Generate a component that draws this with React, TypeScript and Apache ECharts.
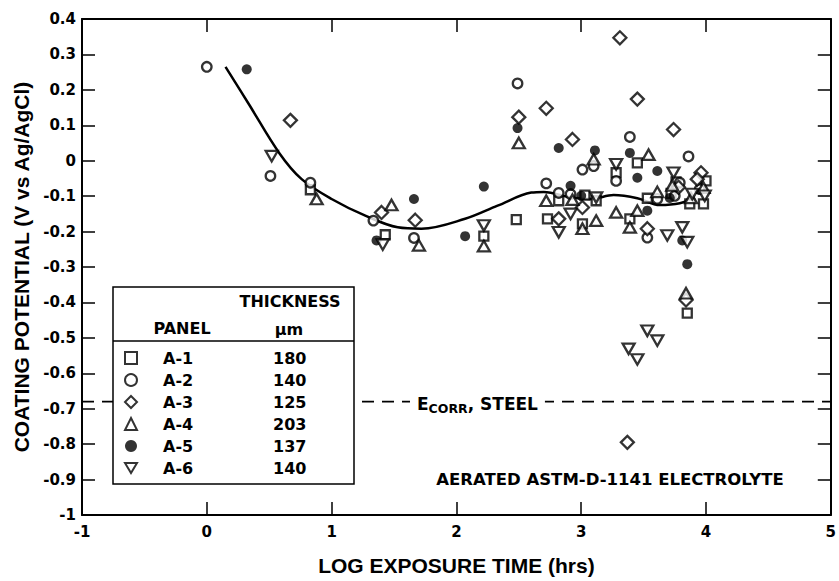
import React, { useEffect, useRef } from "react";
import * as echarts from "echarts";

// ---- data ----
const PANELS = ["A-1", "A-2", "A-3", "A-4", "A-5", "A-6"];
const THICKNESS_UM = ["180", "140", "125", "203", "137", "140"];

const X_MIN = -1;
const X_MAX = 5;
const Y_MIN = -1;
const Y_MAX = 0.4;

const A1_SQUARE: number[][] = [
  [0.83, -0.082], [1.43, -0.209], [2.22, -0.213], [2.48, -0.166], [2.73, -0.164],
  [2.82, -0.113], [3.01, -0.178], [3.03, -0.097], [3.12, -0.113], [3.28, -0.034],
  [3.39, -0.164], [3.45, -0.006], [3.53, -0.106], [3.72, -0.092], [3.76, -0.06],
  [3.87, -0.122], [3.98, -0.122], [4.0, -0.057], [3.85, -0.43],
];
const A2_CIRCLE: number[][] = [
  [0.0, 0.265], [0.51, -0.043], [0.83, -0.062], [1.335, -0.169], [1.66, -0.218],
  [2.49, 0.218], [2.72, -0.064], [2.82, -0.091], [2.915, -0.094], [3.01, -0.025],
  [3.1, -0.015], [3.28, -0.057], [3.39, 0.067], [3.53, -0.217], [3.61, -0.108],
  [3.75, -0.099], [3.79, -0.062], [3.86, 0.012], [3.95, -0.08],
];
const A3_DIAMOND: number[][] = [
  [0.67, 0.114], [1.4, -0.146], [1.67, -0.168], [2.5, 0.123], [2.72, 0.148],
  [2.93, 0.06], [2.82, -0.164], [3.01, -0.132], [3.31, 0.347], [3.45, 0.174],
  [3.74, 0.088], [3.53, -0.192], [3.96, -0.034], [3.93, -0.052], [3.84, -0.393],
  [3.37, -0.795], [3.78, -0.075],
];
const A4_TRIANGLE: number[][] = [
  [0.88, -0.108], [1.48, -0.125], [1.7, -0.239], [2.22, -0.241], [2.5, 0.05],
  [2.72, -0.113], [2.93, -0.11], [3.01, -0.192], [3.1, 0.004], [3.12, -0.169],
  [3.28, -0.146], [3.39, -0.188], [3.45, -0.141], [3.54, 0.017], [3.61, -0.088],
  [3.73, -0.07], [3.98, -0.076], [3.84, -0.374], [3.88, -0.105],
];
const A5_FILLED: number[][] = [
  [0.32, 0.258], [1.36, -0.225], [1.66, -0.108], [2.07, -0.213], [2.22, -0.073],
  [2.49, 0.092], [2.82, 0.036], [2.915, -0.071], [3.0, -0.099], [3.11, 0.029],
  [3.39, 0.022], [3.45, -0.048], [3.61, -0.029], [3.53, -0.141], [3.71, -0.105],
  [3.81, -0.225], [3.85, -0.292],
];
const A6_DOWN_TRIANGLE: number[][] = [
  [0.52, 0.013], [1.41, -0.237], [2.22, -0.183], [2.82, -0.202], [2.915, -0.15],
  [3.12, -0.104], [3.28, -0.01], [3.69, -0.211], [3.81, -0.188], [3.85, -0.23],
  [3.74, -0.034], [3.89, -0.094], [3.99, -0.099], [3.53, -0.48], [3.61, -0.508],
  [3.38, -0.531], [3.45, -0.561],
];

const FIT_CURVE: number[][] = [
  [0.15, 0.265], [0.34, 0.158], [0.58, 0.022], [0.76, -0.052], [1.0, -0.108],
  [1.27, -0.155], [1.53, -0.188], [1.72, -0.192], [2.07, -0.164], [2.33, -0.127],
  [2.6, -0.09], [2.7, -0.088], [2.92, -0.104], [3.08, -0.108], [3.26, -0.097],
  [3.45, -0.106], [3.63, -0.125], [3.79, -0.12], [3.9, -0.105],
];

const E_CORR_STEEL = -0.68;

// ---- styling ----
const TITLE_FONT = "'Liberation Sans', Arial, Helvetica, sans-serif";
const SMALL_FONT = "'DejaVu Sans', Verdana, sans-serif";
const BLACK = "#000";

const hollow = { color: "#fff", borderColor: BLACK, borderWidth: 2.3 };
const DOWN_TRI = "path://M0,0L2,0L1,1.7Z";

function smallText(text: string, x: number, y: number, fontSize: number, align: string, z: number) {
  return {
    type: "text",
    z,
    x,
    y,
    style: {
      text,
      fill: BLACK,
      fontFamily: SMALL_FONT,
      fontWeight: "bold",
      fontSize,
      align,
      verticalAlign: "middle",
    },
  };
}

function buildOption() {
  const axisLine = { show: true, onZero: false, lineStyle: { color: BLACK, width: 2 } };
  const axisTick = { show: true, inside: true, length: 13, lineStyle: { color: BLACK, width: 1.5 } };
  const tickLabel = {
    color: BLACK,
    fontFamily: SMALL_FONT,
    fontWeight: "bold" as const,
    fontSize: 15,
  };
  const titleStyle = {
    color: BLACK,
    fontFamily: TITLE_FONT,
    fontWeight: "bold" as const,
    fontSize: 21,
  };

  const scatter = (name: string, data: number[][], symbol: string, size: any, itemStyle: any) => ({
    name,
    type: "scatter",
    data,
    symbol,
    symbolSize: size,
    itemStyle,
    z: 3,
    xAxisIndex: 0,
    yAxisIndex: 0,
  });

  const thicknessOf: Record<string, string> = {};
  PANELS.forEach((p, i) => (thicknessOf[p] = THICKNESS_UM[i]));

  const legendRich = {
    s: { width: 21, fontSize: 16, fontFamily: SMALL_FONT, fontWeight: "bold", color: BLACK, lineHeight: 16 },
    a: { width: 110, fontSize: 16, fontFamily: SMALL_FONT, fontWeight: "bold", color: BLACK, lineHeight: 16 },
    b: { fontSize: 16, fontFamily: SMALL_FONT, fontWeight: "bold", color: BLACK, lineHeight: 16 },
  };

  // E_CORR, STEEL label pieces (left x positions)
  const eX = 417;
  const corrX = eX + 0.683 * 17;
  const steelX = corrX + 3.124 * 12.5;

  return {
    animation: false,
    backgroundColor: "#fff",
    grid: { left: 82, right: 4, top: 19, bottom: 62, containLabel: false },
    xAxis: [
      {
        type: "value",
        min: X_MIN,
        max: X_MAX,
        interval: 1,
        position: "bottom",
        axisLine,
        axisTick,
        axisLabel: { ...tickLabel, margin: 9 },
        splitLine: { show: false },
        name: "LOG EXPOSURE TIME (hrs)",
        nameLocation: "middle",
        nameGap: 40,
        nameTextStyle: titleStyle,
      },
      {
        type: "value",
        min: X_MIN,
        max: X_MAX,
        interval: 1,
        position: "top",
        axisLine,
        axisTick,
        axisLabel: { show: false },
        splitLine: { show: false },
      },
    ],
    yAxis: [
      {
        type: "value",
        min: Y_MIN,
        max: Y_MAX,
        interval: 0.1,
        position: "left",
        axisLine,
        axisTick,
        axisLabel: {
          ...tickLabel,
          margin: 6,
          formatter: (v: number) => String(Math.round(v * 10) / 10),
        },
        splitLine: { show: false },
        name: "COATING POTENTIAL (V vs Ag/AgCl)",
        nameLocation: "middle",
        nameGap: 50,
        nameRotate: 90,
        nameTextStyle: titleStyle,
      },
      {
        type: "value",
        min: Y_MIN,
        max: Y_MAX,
        interval: 0.1,
        position: "right",
        axisLine,
        axisTick,
        axisLabel: { show: false },
        splitLine: { show: false },
      },
    ],
    legend: {
      data: PANELS,
      orient: "vertical",
      left: 124,
      top: 350,
      padding: 0,
      itemWidth: 12,
      itemHeight: 12,
      itemGap: 6,
      selectedMode: false,
      z: 20,
      formatter: (name: string) => `{s|}{a|${name}}{b|${thicknessOf[name]}}`,
      textStyle: {
        color: BLACK,
        fontFamily: SMALL_FONT,
        fontWeight: "bold",
        fontSize: 16,
        lineHeight: 16,
        rich: legendRich,
      },
    },
    series: [
      {
        name: "fit",
        type: "line",
        data: FIT_CURVE,
        smooth: 0.35,
        symbol: "none",
        lineStyle: { color: BLACK, width: 2.5 },
        z: 1,
        silent: true,
      },
      {
        name: "Ecorr",
        type: "line",
        data: [
          [X_MIN, E_CORR_STEEL],
          [X_MAX, E_CORR_STEEL],
        ],
        symbol: "none",
        lineStyle: { color: BLACK, width: 1.6, type: [12, 8] },
        z: 1,
        silent: true,
      },
      scatter("A-1", A1_SQUARE, "rect", 9, hollow),
      scatter("A-2", A2_CIRCLE, "circle", 9.5, hollow),
      scatter("A-3", A3_DIAMOND, "diamond", 13, hollow),
      scatter("A-4", A4_TRIANGLE, "triangle", [12, 10.5], hollow),
      scatter("A-5", A5_FILLED, "circle", 10, { color: BLACK }),
      scatter("A-6", A6_DOWN_TRIANGLE, DOWN_TRI, [12, 10.5], hollow),
    ],
    graphic: [
      {
        type: "rect",
        z: 10,
        shape: { x: 113, y: 287, width: 241, height: 197 },
        style: { fill: "#fff", stroke: BLACK, lineWidth: 1.5 },
      },
      {
        type: "line",
        z: 11,
        shape: { x1: 113, y1: 341, x2: 354, y2: 341 },
        style: { stroke: BLACK, lineWidth: 1.5 },
      },
      smallText("THICKNESS", 290, 301, 16, "center", 11),
      smallText("PANEL", 182, 328, 16, "center", 11),
      smallText("µm", 289, 329, 16, "center", 11),
      // white mask behind the E_CORR label so the dashed line is interrupted
      {
        type: "rect",
        z: 7,
        shape: { x: eX - 7, y: 395, width: steelX + 0.38 * 17 + 0.348 * 17 + 3.405 * 17 - eX + 14, height: 20 },
        style: { fill: "#fff", stroke: "none" },
      },
      smallText("E", eX, 404, 17, "left", 8),
      smallText("CORR", corrX, 408.5, 12.5, "left", 8),
      smallText(", STEEL", steelX, 404, 17, "left", 8),
      smallText("AERATED ASTM-D-1141 ELECTROLYTE", 610, 479, 16.5, "center", 8),
    ],
  };
}

export default function App() {
  const ref = useRef<HTMLDivElement>(null);
  useEffect(() => {
    if (!ref.current) return;
    const chart = echarts.init(ref.current, undefined, { renderer: "svg" });
    chart.setOption(buildOption() as any);
    return () => {
      chart.dispose();
    };
  }, []);
  return (
    <div
      ref={ref}
      style={{ position: "fixed", left: 0, top: 0, width: 839, height: 581, background: "#fff" }}
    />
  );
}
